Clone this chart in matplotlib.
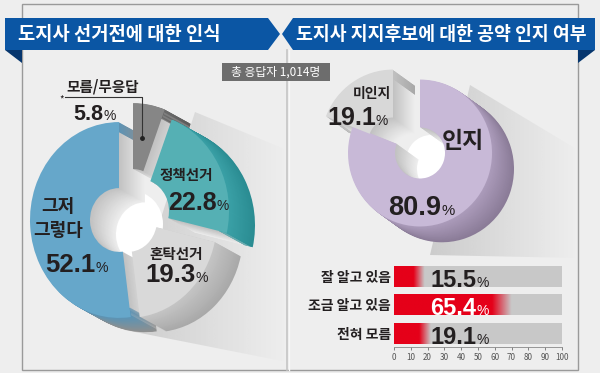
import numpy as np
import matplotlib
matplotlib.use('Agg')
import matplotlib.pyplot as plt
import matplotlib.colors as mcolors
from matplotlib.patches import Wedge, Polygon, Rectangle, Ellipse
from matplotlib.transforms import Affine2D

plt.rcParams['font.family'] = ['Noto Sans CJK KR', 'DejaVu Sans']
NUMFONT = ['Liberation Sans Narrow', 'Liberation Sans', 'DejaVu Sans']
WIDEFONT = ['Liberation Sans', 'DejaVu Sans']

W, H = 600, 373

# 도지사 선거전에 대한 인식 (clockwise from 12 o'clock)
left_labels = ['모름/무응답', '정책선거', '혼탁선거', '그저\n그렇다']
left_values = [5.8, 22.8, 19.3, 52.1]

# 도지사 지지후보에 대한 공약 인지 여부
right_labels = ['인지', '미인지']
right_values = [80.9, 19.1]

bar_labels = ['잘 알고 있음', '조금 알고 있음', '전혀 모름']
bar_values = [15.5, 65.4, 19.1]
bar_ticks = list(range(0, 101, 10))

total_text = '총 응답자 1,014명'
title_left = '도지사 선거전에 대한 인식'
title_right = '도지사 지지후보에 대한 공약 인지 여부'

BG = '#eeeeee'
TXT = '#231f20'
BLUE = '#0b56a4'


def Y(y):
    return H - y


def mix(c1, c2, t):
    a = np.array(mcolors.to_rgb(c1))
    b = np.array(mcolors.to_rgb(c2))
    return tuple(a + (b - a) * t)


def slice_angles(values):
    out = []
    start = 90.0
    for v in values:
        end = start - v * 3.6
        out.append((end, start))
        start = end
    return out


def draw_donut(ax, cx, cy, sy, rout, rin, depth, ddy, slices):
    # slices: (theta1, theta2, ox, oy, face, side_front, side_back)
    base = Affine2D().scale(1.0, sy)
    for k in range(depth, 0, -1):
        t = (k - 1) / float(depth - 1)
        wall = mix('#c2c2c2', '#ededed', t)
        for t1, t2, ox, oy, face, s1, s2 in slices:
            tr = base + Affine2D().translate(cx + ox + k, Y(cy + oy + k * ddy)) + ax.transData
            ax.add_patch(Wedge((0, 0), rout - 2, t1, t2, width=rout - 2 - rin, fc=wall, ec='none',
                               transform=tr, zorder=2))
            ax.add_patch(Wedge((0, 0), rout, t1, t2, width=9, fc=mix(s1, s2, t), ec='none',
                               transform=tr, zorder=2))
    for t1, t2, ox, oy, face, s1, s2 in slices:
        tr = base + Affine2D().translate(cx + ox, Y(cy + oy)) + ax.transData
        ax.add_patch(Wedge((0, 0), rout, t1, t2, width=rout - rin, fc=face, ec='none',
                           transform=tr, zorder=3))


def long_shadow(ax, pts):
    poly = Polygon([(x, Y(y)) for x, y in pts], closed=True, fc='none', ec='none')
    ax.add_patch(poly)
    xs = [p[0] for p in pts]
    ys = [Y(p[1]) for p in pts]
    img = np.zeros((1, 200, 4))
    img[..., :3] = 0.4
    img[..., 3] = np.linspace(0.25, 0.0, 200)[None, :]
    im = ax.imshow(img, extent=[min(xs), max(xs), min(ys), max(ys)], aspect='auto',
                   interpolation='bilinear', zorder=1)
    im.set_clip_path(poly)


def pct_text(axx, x, y, num, size, color=TXT, psize=None, z=6, family=NUMFONT):
    t = axx.text(x, y, num, fontsize=size, fontweight='bold', color=color, family=family,
                 ha='left', va='baseline', zorder=z)
    fig.canvas.draw()
    bb = t.get_window_extent(fig.canvas.get_renderer())
    xr = axx.transData.inverted().transform((bb.x1, bb.y0))[0]
    axx.text(xr, y, '%', fontsize=psize or size * 0.55, color=color, family=NUMFONT,
             ha='left', va='baseline', zorder=z)


fig = plt.figure(figsize=(6, 3.73), dpi=100, facecolor=BG)
ax = fig.add_axes([0, 0, 1, 1])
ax.set_xlim(0, W)
ax.set_ylim(0, H)
ax.axis('off')

# frame
ax.add_patch(Rectangle((22, Y(370)), 556, 366, fc='none', ec='#9a9a9a', lw=1.0, zorder=1))
ax.plot([287, 287], [Y(50), Y(370)], color='#c4c4c4', lw=1.2, zorder=1)
ax.plot([289, 289], [Y(50), Y(370)], color='#f8f8f8', lw=1.0, zorder=1)

# header bars
ax.add_patch(Polygon([(5, Y(18)), (268, Y(18)), (280, Y(34)), (268, Y(50)), (5, Y(50))],
                     fc=BLUE, ec='none', zorder=5))
ax.add_patch(Polygon([(5, Y(50)), (22, Y(50)), (22, Y(63))], fc='#06366e', ec='none', zorder=5))
ax.add_patch(Polygon([(293, Y(18)), (595, Y(18)), (595, Y(50)), (293, Y(50)), (282, Y(34))],
                     fc=BLUE, ec='none', zorder=5))
ax.add_patch(Polygon([(578, Y(50)), (595, Y(50)), (578, Y(63))], fc='#06366e', ec='none', zorder=5))
ax.text(18, Y(34), title_left, color='white', fontsize=13.5, fontweight='bold',
        ha='left', va='center', zorder=6)
ax.text(296, Y(34), title_right, color='white', fontsize=13.2, fontweight='bold',
        ha='left', va='center', zorder=6)

# total respondents box
ax.add_patch(Rectangle((222, Y(81)), 108, 18, fc='#6d6d6d', ec='none', zorder=5))
ax.text(276, Y(72), total_text, color='white', fontsize=8.5, ha='center', va='center', zorder=6)

# ---- left donut ----
long_shadow(ax, [(195, 112), (287, 150), (287, 362), (125, 330)])
la = slice_angles(left_values)
left_offsets = [(14, -19), (21, -9), (9, 0), (0, 0)]
left_faces = ['#868686', '#55b0b4', '#d9d9d9', '#66a7ca']
left_sides = [('#6a6a6a', '#5a5a5a'), ('#3aa0a6', '#2a8c92'),
              ('#c4c4c4', '#a9a9a9'), ('#5d93b4', '#8f8f8f')]
slices = []
for (t1, t2), (ox, oy), fc, (s1, s2) in zip(la, left_offsets, left_faces, left_sides):
    slices.append((t1, t2, ox, oy, fc, s1, s2))
ax.add_patch(Ellipse((132, Y(224)), 62, 66, fc='white', ec='none', zorder=1.5))
draw_donut(ax, 119, 220, 1.1, 89, 29, 26, 0.55, slices)

# labels
ax.text(103, Y(86), left_labels[0], fontsize=10.5, fontweight='bold', color=TXT,
        ha='center', va='center', zorder=6)
pct_text(ax, 73, Y(120), '%.1f' % left_values[0], 15.5, family=WIDEFONT, psize=10)
ax.text(62, Y(99), '*', fontsize=7, color=TXT, ha='center', va='center', zorder=6)
ax.plot([65, 142, 142], [Y(97), Y(97), Y(138)], color='#333333', lw=0.8, zorder=6)
ax.plot([142], [Y(138)], 'o', color='#222222', ms=2.5, zorder=6)

ax.text(186, Y(175), left_labels[1], fontsize=10.5, fontweight='bold', color=TXT,
        ha='center', va='center', zorder=6)
pct_text(ax, 168, Y(210), '%.1f' % left_values[1], 18)

ax.text(176, Y(254), left_labels[2], fontsize=10.5, fontweight='bold', color=TXT,
        ha='center', va='center', zorder=6)
pct_text(ax, 145, Y(282), '%.1f' % left_values[2], 18.5)

for line, yy in zip(left_labels[3].split('\n'), [206, 231]):
    ax.text(58, Y(yy), line, fontsize=13, fontweight='bold', color=TXT,
            ha='center', va='center', zorder=6)
pct_text(ax, 45, Y(272), '%.1f' % left_values[3], 18.5)

# ---- right donut ----
long_shadow(ax, [(470, 85), (578, 150), (578, 258), (430, 255)])
ra = slice_angles(right_values)
right_offsets = [(0, 0), (-27, -10)]
right_faces = ['#c8b9d7', '#d8d8d8']
right_sides = [('#ab9bba', '#8a7b97'), ('#c0c0c0', '#a8a8a8')]
slices = []
for (t1, t2), (ox, oy), fc, (s1, s2) in zip(ra, right_offsets, right_faces, right_sides):
    slices.append((t1, t2, ox, oy, fc, s1, s2))
ax.add_patch(Ellipse((431, Y(161)), 50, 52, fc='white', ec='none', zorder=1.5))
draw_donut(ax, 420, 153, 1.02, 72, 25, 22, 0.72, slices)

ax.text(463, Y(141), right_labels[0], fontsize=16.5, fontweight='bold', color=TXT,
        ha='center', va='center', zorder=6)
pct_text(ax, 388, Y(215), '%.1f' % right_values[0], 19.5)
ax.text(372, Y(94), right_labels[1], fontsize=10, fontweight='bold', color=TXT,
        ha='center', va='center', zorder=6)
pct_text(ax, 327, Y(125), '%.1f' % right_values[1], 18)

# ---- bar chart ----
bx = fig.add_axes([394 / W, (H - 347) / H, 168 / W, 85 / H])
bx.set_facecolor('none')
bh = 0.73
red = mcolors.to_rgb('#e50019')
xs = np.linspace(0, 100, 400)
for i, v in enumerate(bar_values):
    bx.barh(i, 100, height=bh, color='#c8c8c8', zorder=1)
    w = 5 + 0.1 * v
    a0, a1 = v - 0.6 * w, v + 0.4 * w
    img = np.zeros((1, xs.size, 4))
    img[..., :3] = red
    img[..., 3] = np.clip((a1 - xs) / (a1 - a0), 0, 1)
    bx.imshow(img, extent=[0, 100, i + bh / 2, i - bh / 2], aspect='auto',
              interpolation='bilinear', zorder=2)
    col = 'white' if v > 50 else TXT
    pct_text(bx, 21.5, i + 0.37, '%.1f' % v, 17, color=col, psize=10, z=3)

bx.set_xlim(0, 100)
bx.set_ylim(2.47, -0.49)
bx.set_xticks(bar_ticks)
bx.set_xticklabels([str(t) for t in bar_ticks])
bx.set_yticks(range(len(bar_labels)))
bx.set_yticklabels(bar_labels)
bx.tick_params(axis='y', length=0, pad=2, labelsize=10, colors=TXT)
for lab in bx.get_yticklabels():
    lab.set_fontweight('bold')
bx.tick_params(axis='x', length=2.5, width=0.5, pad=1.5, labelsize=5.8, colors='#555555')
for s in ['top', 'right', 'left']:
    bx.spines[s].set_visible(False)
bx.spines['bottom'].set_color('#888888')
bx.spines['bottom'].set_linewidth(0.6)

fig.savefig('out.png', dpi=100, facecolor=BG)
